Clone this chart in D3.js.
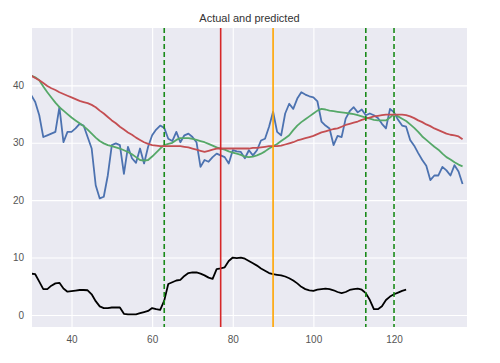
<!DOCTYPE html>
<html>
<head>
<meta charset="utf-8">
<script src="https://cdn.jsdelivr.net/npm/d3@7"></script>
<style>
	body { margin: 0; background: #fff; }
	text { font-family: "Liberation Sans", Arial, sans-serif; }
</style>
</head>
<body>
<svg id="chart" width="500" height="363"></svg>
<script>
// actual values, starting at x = 30
const actualStart = 30;
const actual = [38.3, 37.1, 34.8, 31.0, 31.3, 31.6, 31.9, 36.2, 30.1, 31.9,
	31.9, 32.5, 33.3, 33.0, 31.0, 29.0, 22.6, 20.3, 20.6, 24.3,
	29.6, 29.9, 29.6, 24.6, 29.3, 27.3, 26.5, 29.0, 26.4, 29.3,
	31.3, 32.3, 33.0, 32.6, 30.7, 30.3, 31.9, 30.1, 31.3, 31.6,
	31.0, 30.1, 25.8, 27.0, 26.7, 27.5, 28.1, 27.8, 27.5, 26.4,
	28.7, 28.5, 28.4, 27.3, 28.7, 27.8, 28.7, 30.4, 30.7, 32.8,
	35.4, 31.9, 31.3, 35.1, 36.8, 35.9, 37.7, 38.8, 38.4, 38.1,
	37.9, 37.2, 33.7, 33.0, 32.5, 29.6, 31.2, 31.0, 34.2, 35.5,
	36.2, 35.3, 35.8, 34.8, 35.1, 34.8, 34.3, 33.3, 32.5, 35.9,
	35.3, 34.0, 33.0, 32.8, 30.5, 29.5, 28.2, 27.0, 26.0, 23.5,
	24.3, 24.3, 25.8, 25.2, 24.3, 26.1, 25.0, 22.8];

// short moving average (green)
const smoothShort = [41.7, 41.4, 40.9, 39.8, 38.8, 37.9, 37.0, 36.2, 35.6, 35.0,
	34.4, 33.9, 33.4, 32.9, 32.3, 31.6, 30.9, 30.3, 29.9, 29.6,
	29.4, 29.2, 29.0, 28.7, 28.4, 28.0, 27.5, 27.0, 26.9, 27.0,
	27.6, 28.3, 29.0, 29.6, 29.8, 30.0, 30.5, 30.8, 30.8, 30.8,
	30.7, 30.5, 30.3, 30.1, 29.8, 29.5, 29.2, 29.0, 28.8, 28.5,
	28.3, 28.1, 27.9, 27.6, 27.5, 27.6, 27.8, 28.1, 28.5, 29.0,
	29.4, 29.8, 30.3, 30.8, 31.3, 32.2, 33.0, 33.6, 34.1, 34.6,
	35.1, 35.6, 35.9, 35.8, 35.6, 35.5, 35.4, 35.3, 35.2, 35.1,
	35.0, 34.8, 34.6, 34.4, 34.2, 34.0, 33.9, 33.9, 33.9, 34.4,
	35.0, 34.6, 34.2, 33.8, 33.2, 32.6, 31.9, 31.1, 30.5, 29.9,
	29.3, 28.8, 28.1, 27.5, 27.1, 26.6, 26.2, 25.9];

// long moving average (red)
const smoothLong = [41.7, 41.3, 40.9, 40.4, 39.9, 39.5, 39.2, 38.8, 38.5, 38.2,
	37.9, 37.6, 37.3, 37.1, 36.9, 36.6, 36.2, 35.6, 35.1, 34.5,
	33.9, 33.4, 32.8, 32.3, 31.8, 31.4, 30.9, 30.5, 30.1, 29.8,
	29.6, 29.5, 29.4, 29.4, 29.4, 29.4, 29.4, 29.4, 29.3, 29.2,
	29.0, 28.8, 28.6, 28.4, 28.6, 28.8, 29.0, 29.0, 29.0, 29.0,
	29.0, 29.0, 29.0, 29.0, 29.0, 29.1, 29.1, 29.2, 29.3, 29.4,
	29.4, 29.4, 29.5, 29.7, 29.9, 30.1, 30.4, 30.6, 30.8, 31.0,
	31.2, 31.5, 31.8, 32.0, 32.2, 32.4, 32.5, 32.8, 33.1, 33.3,
	33.5, 33.7, 34.0, 34.2, 34.4, 34.6, 34.7, 34.8, 34.9, 34.9,
	34.9, 34.9, 34.9, 34.8, 34.6, 34.3, 33.9, 33.6, 33.2, 32.9,
	32.5, 32.2, 31.9, 31.6, 31.4, 31.3, 31.1, 30.6];

// black signal, x = 30 .. 123
const signal = [7.2, 7.1, 5.8, 4.5, 4.5, 5.1, 5.5, 5.6, 4.6, 4.05,
	4.15, 4.25, 4.35, 4.35, 4.3, 3.6, 2.4, 1.5, 1.2, 1.2,
	1.3, 1.3, 1.3, 0.2, 0.1, 0.1, 0.1, 0.3, 0.5, 0.7,
	1.2, 1.0, 0.9, 2.5, 5.4, 5.7, 6.0, 6.1, 6.8, 7.3,
	7.4, 7.4, 7.2, 6.9, 6.5, 6.3, 8.0, 8.1, 8.3, 9.4,
	10.0, 9.9, 10.0, 9.8, 9.4, 9.0, 8.6, 8.1, 7.7, 7.3,
	7.1, 7.0, 6.9, 6.7, 6.4, 6.0, 5.5, 4.9, 4.5, 4.3,
	4.2, 4.4, 4.5, 4.6, 4.5, 4.3, 4.0, 3.8, 4.0, 4.35,
	4.5, 4.6, 4.4, 3.8, 2.6, 1.0, 1.0, 1.5, 2.6, 3.2,
	3.6, 3.9, 4.2, 4.4];

// vertical markers
const markerX = [63, 77, 90, 113, 120];
const markerColor = ["#1a8a1a", "#d62728", "#ffa500", "#1a8a1a", "#1a8a1a"];
const markerDash = ["5,3", null, null, "5,3", "5,3"];

const xTicks = [40, 60, 80, 100, 120];
const yTicks = [0, 10, 20, 30, 40];
const title = "Actual and predicted";

(function(){

	const svg = d3.select("#chart");
	const left = 32, right = 467, top = 28, bottom = 327;

	const x = d3.scaleLinear().domain([30.2, 138.1]).range([left, right]);
	const y = d3.scaleLinear().domain([-2.1, 50]).range([bottom, top]);

	svg.append("rect")
		.attr("x", left).attr("y", top)
		.attr("width", right - left).attr("height", bottom - top)
		.attr("fill", "#eaeaf2");

	svg.append("clipPath").attr("id", "plotClip")
		.append("rect")
		.attr("x", left).attr("y", top)
		.attr("width", right - left).attr("height", bottom - top);

	// grid via axes with full-length ticks
	const xAxis = svg.append("g")
		.attr("transform", "translate(0," + bottom + ")")
		.call(d3.axisBottom(x).tickValues(xTicks).tickSize(-(bottom - top)).tickPadding(9));
	const yAxis = svg.append("g")
		.attr("transform", "translate(" + left + ",0)")
		.call(d3.axisLeft(y).tickValues(yTicks).tickSize(-(right - left)).tickPadding(8));

	[xAxis, yAxis].forEach(function(ax) {
		ax.select(".domain").remove();
		ax.selectAll(".tick line").attr("stroke", "#fff").attr("stroke-width", 1.1);
		ax.selectAll(".tick text")
			.attr("fill", "#555")
			.style("font-size", "10px")
			.style("font-family", "'Liberation Sans', Arial, sans-serif");
	});

	const plot = svg.append("g").attr("clip-path", "url(#plotClip)");

	function toPoints(values) {
		return values.map(function(v, i) { return [actualStart + i, v]; });
	}

	const line = d3.line()
		.x(function(d) { return x(d[0]); })
		.y(function(d) { return y(d[1]); });

	const series = [
		{ values: actual, color: "#4c72b0" },
		{ values: smoothShort, color: "#55a868" },
		{ values: smoothLong, color: "#c44e52" },
		{ values: signal, color: "#000" }
	];

	plot.selectAll("path.series")
		.data(series)
		.enter().append("path")
		.attr("class", "series")
		.attr("d", function(d) { return line(toPoints(d.values)); })
		.attr("fill", "none")
		.attr("stroke", function(d) { return d.color; })
		.attr("stroke-width", 1.8)
		.attr("stroke-linejoin", "round");

	plot.selectAll("line.marker")
		.data(markerX)
		.enter().append("line")
		.attr("class", "marker")
		.attr("x1", function(d) { return x(d); })
		.attr("x2", function(d) { return x(d); })
		.attr("y1", top).attr("y2", bottom)
		.attr("stroke", function(d, i) { return markerColor[i]; })
		.attr("stroke-width", 1.6)
		.attr("stroke-dasharray", function(d, i) { return markerDash[i]; });

	svg.append("text")
		.attr("x", (left + right) / 2)
		.attr("y", 22)
		.attr("text-anchor", "middle")
		.attr("fill", "#333")
		.style("font-size", "11px")
		.text(title);

}());
</script>
</body>
</html>
